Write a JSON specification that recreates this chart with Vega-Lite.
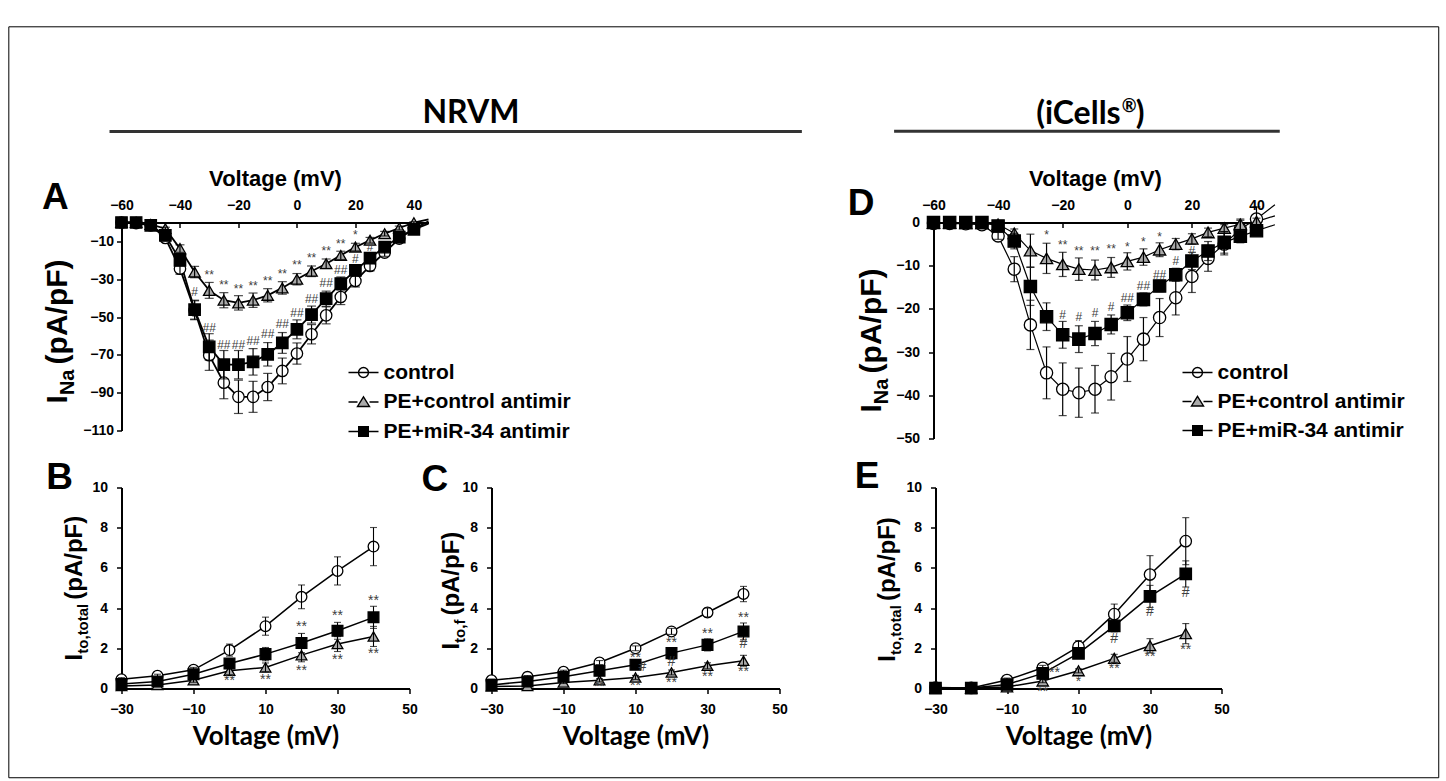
{
  "$schema": "https://vega.github.io/schema/vega-lite/v6.json",
  "padding": {"left": 7.5, "top": 25.5, "right": 4, "bottom": 0},
  "background": "white",
  "config": {
    "font": "Liberation Sans",
    "view": {"stroke": null},
    "axis": {"labelFont": "Liberation Sans", "labelFontWeight": "bold", "labelFontSize": 14, "labelColor": "black", "labelFlush": false, "labelOverlap": false, "domainColor": "black", "domainWidth": 2, "tickColor": "black", "tickWidth": 1.5, "grid": false, "titleFont": "Liberation Sans", "titleFontWeight": "bold", "titleColor": "black"}
  },
  "datasets": {
    "A": [
      {"series":"control","v":-60,"m":0,"lo":0,"hi":0},{"series":"control","v":-55,"m":-0.3,"lo":-0.3,"hi":-0.3},{"series":"control","v":-50,"m":-1.5,"lo":-2,"hi":-1},{"series":"control","v":-45,"m":-8.2,"lo":-9.7,"hi":-6.7},{"series":"control","v":-40,"m":-24.4,"lo":-27.4,"hi":-21.4},{"series":"control","v":-35,"m":-46.4,"lo":-51.4,"hi":-41.4},{"series":"control","v":-30,"m":-70.2,"lo":-78.2,"hi":-62.2},{"series":"control","v":-25,"m":-84.7,"lo":-93.2,"hi":-76.2},{"series":"control","v":-20,"m":-92.2,"lo":-101,"hi":-83.4},{"series":"control","v":-15,"m":-92.2,"lo":-100.4,"hi":-84},{"series":"control","v":-10,"m":-87,"lo":-94.2,"hi":-79.8},{"series":"control","v":-5,"m":-78.5,"lo":-85.3,"hi":-71.7},{"series":"control","v":0,"m":-69.3,"lo":-74.9,"hi":-63.7},{"series":"control","v":5,"m":-59.1,"lo":-64.2,"hi":-54},{"series":"control","v":10,"m":-49.1,"lo":-53.6,"hi":-44.6},{"series":"control","v":15,"m":-39.4,"lo":-43.4,"hi":-35.4},{"series":"control","v":20,"m":-30.9,"lo":-34.1,"hi":-27.7},{"series":"control","v":25,"m":-23,"lo":-25.6,"hi":-20.4},{"series":"control","v":30,"m":-15.9,"lo":-17.9,"hi":-13.9},{"series":"control","v":35,"m":-8.5,"lo":-10,"hi":-7},{"series":"control","v":40,"m":-3.3,"lo":-4.3,"hi":-2.3},{"series":"control","v":45,"m":0.6},
      {"series":"PE+control antimir","v":-60,"m":0,"lo":0,"hi":0},{"series":"PE+control antimir","v":-55,"m":0,"lo":0,"hi":0},{"series":"PE+control antimir","v":-50,"m":-1,"lo":-1.3,"hi":-0.7},{"series":"PE+control antimir","v":-45,"m":-3.3,"lo":-4.1,"hi":-2.5},{"series":"PE+control antimir","v":-40,"m":-13.8,"lo":-15.8,"hi":-11.8},{"series":"PE+control antimir","v":-35,"m":-26.2,"lo":-29.2,"hi":-23.2},{"series":"PE+control antimir","v":-30,"m":-35.9,"lo":-40.1,"hi":-31.7},{"series":"PE+control antimir","v":-25,"m":-41.1,"lo":-45.1,"hi":-37.1},{"series":"PE+control antimir","v":-20,"m":-42.5,"lo":-46.3,"hi":-38.7},{"series":"PE+control antimir","v":-15,"m":-41.1,"lo":-44.9,"hi":-37.3},{"series":"PE+control antimir","v":-10,"m":-38.5,"lo":-42,"hi":-35},{"series":"PE+control antimir","v":-5,"m":-34.6,"lo":-37.9,"hi":-31.3},{"series":"PE+control antimir","v":0,"m":-30,"lo":-33,"hi":-27},{"series":"PE+control antimir","v":5,"m":-25.8,"lo":-28.6,"hi":-23},{"series":"PE+control antimir","v":10,"m":-21.8,"lo":-24.3,"hi":-19.3},{"series":"PE+control antimir","v":15,"m":-17.4,"lo":-19.6,"hi":-15.2},{"series":"PE+control antimir","v":20,"m":-13,"lo":-15,"hi":-11},{"series":"PE+control antimir","v":25,"m":-9.4,"lo":-10.9,"hi":-7.9},{"series":"PE+control antimir","v":30,"m":-5.9,"lo":-7.1,"hi":-4.7},{"series":"PE+control antimir","v":35,"m":-2.9,"lo":-3.9,"hi":-1.9},{"series":"PE+control antimir","v":40,"m":-0.1,"lo":-0.6,"hi":0.4},{"series":"PE+control antimir","v":45,"m":1.7},
      {"series":"PE+miR-34 antimir","v":-60,"m":0,"lo":0,"hi":0},{"series":"PE+miR-34 antimir","v":-55,"m":0,"lo":0,"hi":0},{"series":"PE+miR-34 antimir","v":-50,"m":-1.5,"lo":-2,"hi":-1},{"series":"PE+miR-34 antimir","v":-45,"m":-6.8,"lo":-8,"hi":-5.6},{"series":"PE+miR-34 antimir","v":-40,"m":-20,"lo":-23,"hi":-17},{"series":"PE+miR-34 antimir","v":-35,"m":-46.1,"lo":-51.1,"hi":-41.1},{"series":"PE+miR-34 antimir","v":-30,"m":-65.8,"lo":-72.8,"hi":-58.8},{"series":"PE+miR-34 antimir","v":-25,"m":-75.2,"lo":-82.7,"hi":-67.7},{"series":"PE+miR-34 antimir","v":-20,"m":-75.2,"lo":-82.7,"hi":-67.7},{"series":"PE+miR-34 antimir","v":-15,"m":-73.7,"lo":-80.7,"hi":-66.7},{"series":"PE+miR-34 antimir","v":-10,"m":-69.7,"lo":-75.9,"hi":-63.5},{"series":"PE+miR-34 antimir","v":-5,"m":-63.7,"lo":-69.2,"hi":-58.2},{"series":"PE+miR-34 antimir","v":0,"m":-56.5,"lo":-61.5,"hi":-51.5},{"series":"PE+miR-34 antimir","v":5,"m":-48.7,"lo":-53.2,"hi":-44.2},{"series":"PE+miR-34 antimir","v":10,"m":-40.3,"lo":-44.3,"hi":-36.3},{"series":"PE+miR-34 antimir","v":15,"m":-32.3,"lo":-35.8,"hi":-28.8},{"series":"PE+miR-34 antimir","v":20,"m":-25.3,"lo":-28.3,"hi":-22.3},{"series":"PE+miR-34 antimir","v":25,"m":-18.8,"lo":-21.3,"hi":-16.3},{"series":"PE+miR-34 antimir","v":30,"m":-13,"lo":-15,"hi":-11},{"series":"PE+miR-34 antimir","v":35,"m":-7.7,"lo":-9.2,"hi":-6.2},{"series":"PE+miR-34 antimir","v":40,"m":-3.6,"lo":-4.6,"hi":-2.6},{"series":"PE+miR-34 antimir","v":45,"m":-0.6}
    ],
    "D": [
      {"series":"control","v":-60,"m":-0.2,"lo":-0.4,"hi":0},{"series":"control","v":-55,"m":-0.2,"lo":-0.4,"hi":0},{"series":"control","v":-50,"m":-0.3,"lo":-0.6,"hi":0},{"series":"control","v":-45,"m":-0.5,"lo":-0.9,"hi":-0.1},{"series":"control","v":-40,"m":-3.1,"lo":-3.9,"hi":-2.3},{"series":"control","v":-35,"m":-10.8,"lo":-13.7,"hi":-7.9},{"series":"control","v":-30,"m":-23.7,"lo":-29.4,"hi":-18},{"series":"control","v":-25,"m":-34.8,"lo":-40.8,"hi":-28.8},{"series":"control","v":-20,"m":-38.6,"lo":-44.7,"hi":-32.5},{"series":"control","v":-15,"m":-39.4,"lo":-45.1,"hi":-33.7},{"series":"control","v":-10,"m":-38.6,"lo":-44.1,"hi":-33.1},{"series":"control","v":-5,"m":-35.7,"lo":-41.1,"hi":-30.3},{"series":"control","v":0,"m":-31.6,"lo":-36.8,"hi":-26.4},{"series":"control","v":5,"m":-27,"lo":-32,"hi":-22},{"series":"control","v":10,"m":-22,"lo":-26.4,"hi":-17.6},{"series":"control","v":15,"m":-17.4,"lo":-21.4,"hi":-13.4},{"series":"control","v":20,"m":-12.5,"lo":-16.2,"hi":-8.8},{"series":"control","v":25,"m":-8.3,"lo":-11.3,"hi":-5.3},{"series":"control","v":30,"m":-5,"lo":-7.5,"hi":-2.5},{"series":"control","v":35,"m":-1.5,"lo":-3.5,"hi":0.5},{"series":"control","v":40,"m":0.8,"lo":-2,"hi":3.6},{"series":"control","v":45.7,"m":4.1},
      {"series":"PE+control antimir","v":-60,"m":-0.1,"lo":-0.2,"hi":0},{"series":"PE+control antimir","v":-55,"m":-0.1,"lo":-0.2,"hi":0},{"series":"PE+control antimir","v":-50,"m":-0.2,"lo":-0.3,"hi":-0.1},{"series":"PE+control antimir","v":-45,"m":-0.2,"lo":-0.3,"hi":-0.1},{"series":"PE+control antimir","v":-40,"m":-0.4,"lo":-0.7,"hi":-0.1},{"series":"PE+control antimir","v":-35,"m":-2.5,"lo":-3.5,"hi":-1.5},{"series":"PE+control antimir","v":-30,"m":-6.5,"lo":-10.3,"hi":-2.7},{"series":"PE+control antimir","v":-25,"m":-8.3,"lo":-11.8,"hi":-4.8},{"series":"PE+control antimir","v":-20,"m":-9.7,"lo":-12.5,"hi":-6.9},{"series":"PE+control antimir","v":-15,"m":-10.8,"lo":-13.4,"hi":-8.2},{"series":"PE+control antimir","v":-10,"m":-11,"lo":-13.3,"hi":-8.7},{"series":"PE+control antimir","v":-5,"m":-10.4,"lo":-12.7,"hi":-8.1},{"series":"PE+control antimir","v":0,"m":-9,"lo":-11,"hi":-7},{"series":"PE+control antimir","v":5,"m":-8,"lo":-9.9,"hi":-6.1},{"series":"PE+control antimir","v":10,"m":-6.3,"lo":-7.9,"hi":-4.7},{"series":"PE+control antimir","v":15,"m":-5,"lo":-6.3,"hi":-3.7},{"series":"PE+control antimir","v":20,"m":-3.8,"lo":-5,"hi":-2.6},{"series":"PE+control antimir","v":25,"m":-2.3,"lo":-3.3,"hi":-1.3},{"series":"PE+control antimir","v":30,"m":-1.3,"lo":-2.1,"hi":-0.5},{"series":"PE+control antimir","v":35,"m":-0.4,"lo":-1.6,"hi":0.8},{"series":"PE+control antimir","v":40,"m":0.2,"lo":-0.6,"hi":1},{"series":"PE+control antimir","v":45.7,"m":1.55},
      {"series":"PE+miR-34 antimir","v":-60,"m":0,"lo":0,"hi":0},{"series":"PE+miR-34 antimir","v":-55,"m":0,"lo":0,"hi":0},{"series":"PE+miR-34 antimir","v":-50,"m":0,"lo":0,"hi":0},{"series":"PE+miR-34 antimir","v":-45,"m":0,"lo":0,"hi":0},{"series":"PE+miR-34 antimir","v":-40,"m":-0.8,"lo":-1.2,"hi":-0.4},{"series":"PE+miR-34 antimir","v":-35,"m":-4.3,"lo":-6.1,"hi":-2.5},{"series":"PE+miR-34 antimir","v":-30,"m":-14.8,"lo":-19.2,"hi":-10.4},{"series":"PE+miR-34 antimir","v":-25,"m":-21.8,"lo":-25,"hi":-18.6},{"series":"PE+miR-34 antimir","v":-20,"m":-26,"lo":-29.1,"hi":-22.9},{"series":"PE+miR-34 antimir","v":-15,"m":-27,"lo":-30.1,"hi":-23.9},{"series":"PE+miR-34 antimir","v":-10,"m":-25.7,"lo":-28.5,"hi":-22.9},{"series":"PE+miR-34 antimir","v":-5,"m":-23.6,"lo":-25.8,"hi":-21.4},{"series":"PE+miR-34 antimir","v":0,"m":-20.9,"lo":-22.7,"hi":-19.1},{"series":"PE+miR-34 antimir","v":5,"m":-17.8,"lo":-19.3,"hi":-16.3},{"series":"PE+miR-34 antimir","v":10,"m":-14.7,"lo":-16,"hi":-13.4},{"series":"PE+miR-34 antimir","v":15,"m":-12.1,"lo":-13.6,"hi":-10.6},{"series":"PE+miR-34 antimir","v":20,"m":-8.9,"lo":-10.9,"hi":-6.9},{"series":"PE+miR-34 antimir","v":25,"m":-6.6,"lo":-8.8,"hi":-4.4},{"series":"PE+miR-34 antimir","v":30,"m":-4.6,"lo":-7.1,"hi":-2.1},{"series":"PE+miR-34 antimir","v":35,"m":-3.2,"lo":-4.7,"hi":-1.7},{"series":"PE+miR-34 antimir","v":40,"m":-1.9,"lo":-2.9,"hi":-0.9},{"series":"PE+miR-34 antimir","v":45.7,"m":-0.53}
    ],
    "B": [
      {"series":"control","v":-30,"m":0.46,"lo":0.38,"hi":0.54},{"series":"control","v":-20,"m":0.63,"lo":0.55,"hi":0.71},{"series":"control","v":-10,"m":0.93,"lo":0.81,"hi":1.05},{"series":"control","v":0,"m":1.91,"lo":1.61,"hi":2.21},{"series":"control","v":10,"m":3.1,"lo":2.65,"hi":3.55},{"series":"control","v":20,"m":4.56,"lo":3.97,"hi":5.15},{"series":"control","v":30,"m":5.85,"lo":5.15,"hi":6.55},{"series":"control","v":40,"m":7.06,"lo":6.11,"hi":8.01},
      {"series":"PE+control antimir","v":-30,"m":0.13,"lo":0.08,"hi":0.18},{"series":"PE+control antimir","v":-20,"m":0.18,"lo":0.13,"hi":0.23},{"series":"PE+control antimir","v":-10,"m":0.41,"lo":0.31,"hi":0.51},{"series":"PE+control antimir","v":0,"m":0.88,"lo":0.68,"hi":1.08},{"series":"PE+control antimir","v":10,"m":1.05,"lo":0.83,"hi":1.27},{"series":"PE+control antimir","v":20,"m":1.66,"lo":1.33,"hi":1.99},{"series":"PE+control antimir","v":30,"m":2.21,"lo":1.84,"hi":2.58},{"series":"PE+control antimir","v":40,"m":2.59,"lo":2.09,"hi":3.09},
      {"series":"PE+miR-34 antimir","v":-30,"m":0.22,"lo":0.17,"hi":0.27},{"series":"PE+miR-34 antimir","v":-20,"m":0.35,"lo":0.29,"hi":0.41},{"series":"PE+miR-34 antimir","v":-10,"m":0.71,"lo":0.61,"hi":0.81},{"series":"PE+miR-34 antimir","v":0,"m":1.24,"lo":0.99,"hi":1.49},{"series":"PE+miR-34 antimir","v":10,"m":1.71,"lo":1.38,"hi":2.04},{"series":"PE+miR-34 antimir","v":20,"m":2.26,"lo":1.78,"hi":2.74},{"series":"PE+miR-34 antimir","v":30,"m":2.87,"lo":2.45,"hi":3.29},{"series":"PE+miR-34 antimir","v":40,"m":3.54,"lo":2.99,"hi":4.09}
    ],
    "C": [
      {"series":"control","v":-30,"m":0.41,"lo":0.36,"hi":0.46},{"series":"control","v":-20,"m":0.58,"lo":0.52,"hi":0.64},{"series":"control","v":-10,"m":0.83,"lo":0.75,"hi":0.91},{"series":"control","v":0,"m":1.29,"lo":1.19,"hi":1.39},{"series":"control","v":10,"m":2.0,"lo":1.88,"hi":2.12},{"series":"control","v":20,"m":2.84,"lo":2.69,"hi":2.99},{"series":"control","v":30,"m":3.78,"lo":3.56,"hi":4.0},{"series":"control","v":40,"m":4.7,"lo":4.32,"hi":5.08},
      {"series":"PE+control antimir","v":-30,"m":0.1,"lo":0.07,"hi":0.13},{"series":"PE+control antimir","v":-20,"m":0.13,"lo":0.1,"hi":0.16},{"series":"PE+control antimir","v":-10,"m":0.3,"lo":0.25,"hi":0.35},{"series":"PE+control antimir","v":0,"m":0.41,"lo":0.33,"hi":0.49},{"series":"PE+control antimir","v":10,"m":0.55,"lo":0.45,"hi":0.65},{"series":"PE+control antimir","v":20,"m":0.8,"lo":0.68,"hi":0.92},{"series":"PE+control antimir","v":30,"m":1.13,"lo":0.98,"hi":1.28},{"series":"PE+control antimir","v":40,"m":1.38,"lo":1.11,"hi":1.65},
      {"series":"PE+miR-34 antimir","v":-30,"m":0.18,"lo":0.14,"hi":0.22},{"series":"PE+miR-34 antimir","v":-20,"m":0.35,"lo":0.3,"hi":0.4},{"series":"PE+miR-34 antimir","v":-10,"m":0.58,"lo":0.5,"hi":0.66},{"series":"PE+miR-34 antimir","v":0,"m":0.88,"lo":0.78,"hi":0.98},{"series":"PE+miR-34 antimir","v":10,"m":1.18,"lo":1.03,"hi":1.33},{"series":"PE+miR-34 antimir","v":20,"m":1.76,"lo":1.56,"hi":1.96},{"series":"PE+miR-34 antimir","v":30,"m":2.17,"lo":1.87,"hi":2.47},{"series":"PE+miR-34 antimir","v":40,"m":2.84,"lo":2.42,"hi":3.26}
    ],
    "E": [
      {"series":"control","v":-30,"m":0.05,"lo":0.03,"hi":0.07},{"series":"control","v":-20,"m":0.03,"lo":0.01,"hi":0.05},{"series":"control","v":-10,"m":0.42,"lo":0.32,"hi":0.52},{"series":"control","v":0,"m":1.03,"lo":0.91,"hi":1.15},{"series":"control","v":10,"m":2.08,"lo":1.78,"hi":2.38},{"series":"control","v":20,"m":3.7,"lo":3.2,"hi":4.2},{"series":"control","v":30,"m":5.67,"lo":4.73,"hi":6.61},{"series":"control","v":40,"m":7.33,"lo":6.16,"hi":8.5},
      {"series":"PE+control antimir","v":-30,"m":0.02,"lo":0,"hi":0.04},{"series":"PE+control antimir","v":-20,"m":0.02,"lo":0,"hi":0.04},{"series":"PE+control antimir","v":-10,"m":0.08,"lo":0.05,"hi":0.11},{"series":"PE+control antimir","v":0,"m":0.37,"lo":0.29,"hi":0.45},{"series":"PE+control antimir","v":10,"m":0.88,"lo":0.78,"hi":0.98},{"series":"PE+control antimir","v":20,"m":1.5,"lo":1.3,"hi":1.7},{"series":"PE+control antimir","v":30,"m":2.13,"lo":1.78,"hi":2.48},{"series":"PE+control antimir","v":40,"m":2.73,"lo":2.23,"hi":3.23},
      {"series":"PE+miR-34 antimir","v":-30,"m":0.02,"lo":0,"hi":0.04},{"series":"PE+miR-34 antimir","v":-20,"m":0.02,"lo":0,"hi":0.04},{"series":"PE+miR-34 antimir","v":-10,"m":0.2,"lo":0.15,"hi":0.25},{"series":"PE+miR-34 antimir","v":0,"m":0.75,"lo":0.65,"hi":0.85},{"series":"PE+miR-34 antimir","v":10,"m":1.75,"lo":1.55,"hi":1.95},{"series":"PE+miR-34 antimir","v":20,"m":3.12,"lo":2.82,"hi":3.42},{"series":"PE+miR-34 antimir","v":30,"m":4.58,"lo":4.03,"hi":5.13},{"series":"PE+miR-34 antimir","v":40,"m":5.7,"lo":5.05,"hi":6.35}
    ],
    "annA": [{"v":-30,"y":-27.9,"t":"**"},{"v":-25,"y":-33.2,"t":"**"},{"v":-20,"y":-35.3,"t":"**"},{"v":-15,"y":-33.6,"t":"**"},{"v":-10,"y":-31.1,"t":"**"},{"v":-5,"y":-27,"t":"**"},{"v":0,"y":-22.6,"t":"**"},{"v":5,"y":-18.8,"t":"**"},{"v":10,"y":-15.1,"t":"**"},{"v":15,"y":-11.4,"t":"**"},{"v":20,"y":-6.8,"t":"*"},{"v":-35,"y":-36.7,"t":"#"},{"v":-30,"y":-55.8,"t":"##"},{"v":-25,"y":-64.6,"t":"##"},{"v":-20,"y":-64.6,"t":"##"},{"v":-15,"y":-62.8,"t":"##"},{"v":-10,"y":-58.9,"t":"##"},{"v":-5,"y":-53.5,"t":"##"},{"v":0,"y":-47.7,"t":"##"},{"v":5,"y":-40.3,"t":"##"},{"v":10,"y":-32,"t":"##"},{"v":15,"y":-25.3,"t":"##"},{"v":20,"y":-19.5,"t":"#"},{"v":25,"y":-12.9,"t":"#"}],
    "annD": [{"v":-25,"y":-2.9,"t":"*"},{"v":-20,"y":-5.2,"t":"**"},{"v":-15,"y":-6.5,"t":"**"},{"v":-10,"y":-6.7,"t":"**"},{"v":-5,"y":-6.2,"t":"**"},{"v":0,"y":-5.6,"t":"*"},{"v":5,"y":-4.4,"t":"*"},{"v":10,"y":-3.4,"t":"*"},{"v":-20,"y":-21.3,"t":"#"},{"v":-15,"y":-21.8,"t":"#"},{"v":-10,"y":-20.9,"t":"#"},{"v":-5,"y":-19.5,"t":"#"},{"v":0,"y":-17.4,"t":"##"},{"v":5,"y":-14.8,"t":"##"},{"v":10,"y":-12.1,"t":"##"},{"v":15,"y":-8.9,"t":"#"},{"v":20,"y":-6.5,"t":"#"}],
    "annB": [{"v":20,"y":3.04,"t":"**"},{"v":30,"y":3.62,"t":"**"},{"v":40,"y":4.37,"t":"**"},{"v":0,"y":0.35,"t":"**"},{"v":10,"y":0.42,"t":"**"},{"v":20,"y":0.88,"t":"**"},{"v":30,"y":1.43,"t":"**"},{"v":40,"y":1.71,"t":"**"}],
    "annC": [{"v":10,"y":1.54,"t":"**"},{"v":20,"y":2.24,"t":"**"},{"v":30,"y":2.71,"t":"**"},{"v":40,"y":3.5,"t":"**"},{"v":11.9,"y":1.08,"t":"#"},{"v":20,"y":1.33,"t":"#"},{"v":40,"y":2.21,"t":"#"},{"v":0,"y":0.05,"t":"**"},{"v":10,"y":0.13,"t":"**"},{"v":20,"y":0.25,"t":"**"},{"v":30,"y":0.58,"t":"**"},{"v":40,"y":0.8,"t":"**"}],
    "annE": [{"v":3.3,"y":0.75,"t":"**"},{"v":0,"y":-0.17,"t":"**"},{"v":10,"y":0.33,"t":"*"},{"v":20,"y":0.97,"t":"**"},{"v":30,"y":1.58,"t":"**"},{"v":40,"y":1.93,"t":"**"},{"v":20,"y":2.45,"t":"#"},{"v":30,"y":3.83,"t":"#"},{"v":40,"y":4.75,"t":"#"}]
  },
  "resolve": {"scale": {"shape": "independent", "fill": "independent"}, "legend": {"shape": "independent", "fill": "independent"}},
  "spacing": -420,
  "vconcat": [
    {
      "hconcat": [
        {
          "width": 307, "height": 208,
          "layer": [
            {"data": {"name": "A"}, "mark": {"type": "line", "color": "black", "strokeWidth": 1.8, "clip": false},
             "encoding": {
               "x": {"field": "v", "type": "quantitative", "scale": {"domain": [-60, 45], "nice": false, "zero": false}, "axis": {"orient": "top", "values": [-60,-40,-20,0,20,40], "title": "Voltage (mV)", "titleFontSize": 22, "titlePadding": 8, "tickSize": -5, "labelPadding": 15}},
               "y": {"field": "m", "type": "quantitative", "scale": {"domain": [-110, 0], "nice": false, "zero": false}, "axis": {"orient": "left", "values": [-10,-30,-50,-70,-90,-110], "title": null, "tickSize": 5, "labelPadding": 3}},
               "detail": {"field": "series"}}},
            {"data": {"name": "A"}, "transform": [{"filter": "isValid(datum.lo)"}],
             "mark": {"type": "point", "filled": true, "stroke": "black", "strokeWidth": 1.3, "size": 130, "opacity": 1},
             "encoding": {
               "x": {"field": "v", "type": "quantitative"},
               "y": {"field": "m", "type": "quantitative"},
               "shape": {"field": "series", "type": "nominal", "scale": {"domain": ["PE+miR-34 antimir","control","PE+control antimir"], "range": ["square","circle","triangle-up"]}, "legend": null},
               "fill": {"field": "series", "type": "nominal", "scale": {"domain": ["control","PE+control antimir","PE+miR-34 antimir"], "range": ["white","#aaaaaa","black"]},
                 "legend": {"orient": "none", "legendX": 226, "legendY": 134, "title": null, "padding": 0, "symbolSize": 900,
                   "symbolType": {"expr": "datum.value === 'control' ? 'M-1,0H1M0.33,0A0.33,0.33,0,1,1,-0.33,0A0.33,0.33,0,1,1,0.33,0Z' : datum.value === 'PE+control antimir' ? 'M-1,0H-0.4M0.4,0H1M0,-0.34L0.4,0.3L-0.4,0.3Z' : 'M-1,0H-0.32M0.32,0H1M-0.32,-0.32H0.32V0.32H-0.32Z'"},
                   "symbolStrokeColor": "black", "symbolStrokeWidth": 1.4, "symbolOpacity": 1, "labelFont": "Liberation Sans", "labelFontSize": 21, "labelFontWeight": "bold", "labelColor": "black", "labelOffset": 4, "labelLimit": 400, "rowPadding": 3.5}}}},
            {"data": {"name": "A"}, "transform": [{"filter": "isValid(datum.lo)"}],
             "mark": {"type": "errorbar", "ticks": {"size": 9}, "thickness": 1.2, "color": "black"},
             "encoding": {"x": {"field": "v", "type": "quantitative"}, "y": {"field": "lo", "type": "quantitative"}, "y2": {"field": "hi"}}},
            {"data": {"name": "annA"}, "mark": {"type": "text", "fontSize": 12, "color": "#404040", "baseline": "middle", "align": "center", "clip": false},
             "encoding": {"x": {"field": "v", "type": "quantitative"}, "y": {"field": "y", "type": "quantitative"}, "text": {"field": "t"}}},
            {"data": {"values": [{}]}, "mark": {"type": "text", "font": "Lato", "fontWeight": "bold", "fontSize": 32, "align": "center", "baseline": "alphabetic", "color": "black", "clip": false},
             "encoding": {"x": {"datum": 59.5, "type": "quantitative"}, "y": {"datum": 52.4, "type": "quantitative"}, "text": {"value": "NRVM"}}},
            {"data": {"values": [{}]}, "mark": {"type": "rule", "strokeWidth": 3, "color": "#333333", "clip": false},
             "encoding": {"x": {"datum": -64.1, "type": "quantitative"}, "x2": {"datum": 172.7}, "y": {"datum": 48.1, "type": "quantitative"}}},
            {"data": {"values": [{}]}, "mark": {"type": "text", "fontWeight": "bold", "fontSize": 37, "align": "center", "baseline": "alphabetic", "color": "black", "clip": false},
             "encoding": {"x": {"datum": -82.6, "type": "quantitative"}, "y": {"datum": 7.4, "type": "quantitative"}, "text": {"value": "A"}}},
            {"data": {"values": [{}]}, "mark": {"type": "text", "fontWeight": "bold", "fontSize": 30, "angle": 270, "align": "left", "baseline": "alphabetic", "color": "black", "dx": -72, "dy": -55, "clip": false},
             "encoding": {"x": {"datum": -60, "type": "quantitative"}, "y": {"datum": -57.6, "type": "quantitative"}, "text": {"value": "I"}}},
            {"data": {"values": [{}]}, "mark": {"type": "text", "fontWeight": "bold", "fontSize": 20, "angle": 270, "align": "left", "baseline": "alphabetic", "color": "black", "dx": -63.7, "dy": -48, "clip": false},
             "encoding": {"x": {"datum": -60, "type": "quantitative"}, "y": {"datum": -57.6, "type": "quantitative"}, "text": {"value": "Na"}}},
            {"data": {"values": [{}]}, "mark": {"type": "text", "fontWeight": "bold", "fontSize": 30, "angle": 270, "align": "left", "baseline": "alphabetic", "color": "black", "dx": -33, "dy": -55, "clip": false},
             "encoding": {"x": {"datum": -60, "type": "quantitative"}, "y": {"datum": -57.6, "type": "quantitative"}, "text": {"value": "(pA/pF)"}}}
          ]
        },
        {
          "width": 323, "height": 216,
          "layer": [
            {"data": {"name": "D"}, "mark": {"type": "line", "color": "black", "strokeWidth": 1.2, "clip": false},
             "encoding": {
               "x": {"field": "v", "type": "quantitative", "scale": {"domain": [-60, 40], "nice": false, "zero": false}, "axis": {"orient": "top", "values": [-60,-40,-20,0,20,40], "title": "Voltage (mV)", "titleFontSize": 22, "titlePadding": 8, "tickSize": -5, "labelPadding": 15}},
               "y": {"field": "m", "type": "quantitative", "scale": {"domain": [-50, 0], "nice": false, "zero": false}, "axis": {"orient": "left", "values": [0,-10,-20,-30,-40,-50], "title": null, "tickSize": 5, "labelPadding": 9}},
               "detail": {"field": "series"}}},
            {"data": {"name": "D"}, "transform": [{"filter": "isValid(datum.lo)"}],
             "mark": {"type": "point", "filled": true, "stroke": "black", "strokeWidth": 1.3, "size": 150, "opacity": 1},
             "encoding": {
               "x": {"field": "v", "type": "quantitative"},
               "y": {"field": "m", "type": "quantitative"},
               "shape": {"field": "series", "type": "nominal", "scale": {"domain": ["PE+miR-34 antimir","control","PE+control antimir"], "range": ["square","circle","triangle-up"]}, "legend": null},
               "fill": {"field": "series", "type": "nominal", "scale": {"domain": ["control","PE+control antimir","PE+miR-34 antimir"], "range": ["white","#aaaaaa","black"]},
                 "legend": {"orient": "none", "legendX": 248, "legendY": 134, "title": null, "padding": 0, "symbolSize": 900,
                   "symbolType": {"expr": "datum.value === 'control' ? 'M-1,0H1M0.33,0A0.33,0.33,0,1,1,-0.33,0A0.33,0.33,0,1,1,0.33,0Z' : datum.value === 'PE+control antimir' ? 'M-1,0H-0.4M0.4,0H1M0,-0.34L0.4,0.3L-0.4,0.3Z' : 'M-1,0H-0.32M0.32,0H1M-0.32,-0.32H0.32V0.32H-0.32Z'"},
                   "symbolStrokeColor": "black", "symbolStrokeWidth": 1.4, "symbolOpacity": 1, "labelFont": "Liberation Sans", "labelFontSize": 21, "labelFontWeight": "bold", "labelColor": "black", "labelOffset": 4, "labelLimit": 400, "rowPadding": 3}}}},
            {"data": {"name": "D"}, "transform": [{"filter": "isValid(datum.lo)"}],
             "mark": {"type": "errorbar", "ticks": {"size": 8}, "thickness": 1.2, "color": "black"},
             "encoding": {"x": {"field": "v", "type": "quantitative"}, "y": {"field": "lo", "type": "quantitative"}, "y2": {"field": "hi"}}},
            {"data": {"name": "annD"}, "mark": {"type": "text", "fontSize": 12, "color": "#404040", "baseline": "middle", "align": "center", "clip": false},
             "encoding": {"x": {"field": "v", "type": "quantitative"}, "y": {"field": "y", "type": "quantitative"}, "text": {"field": "t"}}},
            {"data": {"values": [{}]}, "mark": {"type": "text", "font": "Lato", "fontWeight": "bold", "fontSize": 32, "align": "right", "baseline": "alphabetic", "color": "black", "clip": false},
             "encoding": {"x": {"datum": -2.05, "type": "quantitative"}, "y": {"datum": 22.9, "type": "quantitative"}, "text": {"value": "(iCells"}}},
            {"data": {"values": [{}]}, "mark": {"type": "text", "font": "Lato", "fontWeight": "bold", "fontSize": 18, "align": "left", "baseline": "alphabetic", "color": "black", "dx": 1, "dy": -12, "clip": false},
             "encoding": {"x": {"datum": -2.05, "type": "quantitative"}, "y": {"datum": 22.9, "type": "quantitative"}, "text": {"value": "®"}}},
            {"data": {"values": [{}]}, "mark": {"type": "text", "font": "Lato", "fontWeight": "bold", "fontSize": 32, "align": "left", "baseline": "alphabetic", "color": "black", "dx": 15, "clip": false},
             "encoding": {"x": {"datum": -2.05, "type": "quantitative"}, "y": {"datum": 22.9, "type": "quantitative"}, "text": {"value": ")"}}},
            {"data": {"values": [{}]}, "mark": {"type": "rule", "strokeWidth": 3, "color": "#333333", "clip": false},
             "encoding": {"x": {"datum": -72.2, "type": "quantitative"}, "x2": {"datum": 47.2}, "y": {"datum": 21.1, "type": "quantitative"}}},
            {"data": {"values": [{}]}, "mark": {"type": "text", "fontWeight": "bold", "fontSize": 37, "align": "center", "baseline": "alphabetic", "color": "black", "clip": false},
             "encoding": {"x": {"datum": -82.4, "type": "quantitative"}, "y": {"datum": 1.85, "type": "quantitative"}, "text": {"value": "D"}}},
            {"data": {"values": [{}]}, "mark": {"type": "text", "fontWeight": "bold", "fontSize": 30, "angle": 270, "align": "left", "baseline": "alphabetic", "color": "black", "dx": -72, "dy": -53, "clip": false},
             "encoding": {"x": {"datum": -60, "type": "quantitative"}, "y": {"datum": -27.3, "type": "quantitative"}, "text": {"value": "I"}}},
            {"data": {"values": [{}]}, "mark": {"type": "text", "fontWeight": "bold", "fontSize": 20, "angle": 270, "align": "left", "baseline": "alphabetic", "color": "black", "dx": -63.7, "dy": -46, "clip": false},
             "encoding": {"x": {"datum": -60, "type": "quantitative"}, "y": {"datum": -27.3, "type": "quantitative"}, "text": {"value": "Na"}}},
            {"data": {"values": [{}]}, "mark": {"type": "text", "fontWeight": "bold", "fontSize": 30, "angle": 270, "align": "left", "baseline": "alphabetic", "color": "black", "dx": -33, "dy": -53, "clip": false},
             "encoding": {"x": {"datum": -60, "type": "quantitative"}, "y": {"datum": -27.3, "type": "quantitative"}, "text": {"value": "(pA/pF)"}}}
          ]
        }
      ],
      "spacing": 505,
      "bounds": "flush",
      "resolve": {"scale": {"shape": "independent", "fill": "independent"}, "legend": {"shape": "independent", "fill": "independent"}}
    },
    {
      "hconcat": [
        {
          "width": 288, "height": 201,
          "layer": [
            {"data": {"name": "B"}, "mark": {"type": "line", "color": "black", "strokeWidth": 1.5},
             "encoding": {
               "x": {"field": "v", "type": "quantitative", "scale": {"domain": [-30, 50], "nice": false, "zero": false}, "axis": {"orient": "bottom", "values": [-30,-10,10,30,50], "title": "Voltage (mV)", "titleFont": "Lato", "titleFontSize": 26, "titlePadding": 7, "tickSize": 5, "labelPadding": 9}},
               "y": {"field": "m", "type": "quantitative", "scale": {"domain": [0, 10], "nice": false}, "axis": {"orient": "left", "values": [0,2,4,6,8,10], "title": null, "tickSize": 5, "labelPadding": 9}},
               "detail": {"field": "series"}}},
            {"data": {"name": "B"},
             "mark": {"type": "point", "filled": true, "stroke": "black", "strokeWidth": 1.3, "size": 115, "opacity": 1},
             "encoding": {
               "x": {"field": "v", "type": "quantitative"},
               "y": {"field": "m", "type": "quantitative"},
               "shape": {"field": "series", "type": "nominal", "scale": {"domain": ["control","PE+control antimir","PE+miR-34 antimir"], "range": ["circle","triangle-up","square"]}, "legend": null},
               "fill": {"field": "series", "type": "nominal", "scale": {"domain": ["control","PE+control antimir","PE+miR-34 antimir"], "range": ["white","#aaaaaa","black"]}, "legend": null}}},
            {"data": {"name": "B"},
             "mark": {"type": "errorbar", "ticks": {"size": 7}, "thickness": 1.1, "color": "black"},
             "encoding": {"x": {"field": "v", "type": "quantitative"}, "y": {"field": "lo", "type": "quantitative"}, "y2": {"field": "hi"}}},
            {"data": {"name": "annB"}, "mark": {"type": "text", "fontSize": 14, "color": "#404040", "baseline": "middle", "align": "center", "clip": false},
             "encoding": {"x": {"field": "v", "type": "quantitative"}, "y": {"field": "y", "type": "quantitative"}, "text": {"field": "t"}}},
            {"data": {"values": [{}]}, "mark": {"type": "rect", "fill": "transparent", "stroke": "black", "strokeWidth": 1, "clip": false},
             "encoding": {"x": {"datum": -61.3, "type": "quantitative"}, "x2": {"datum": 335.9}, "y": {"datum": 32.92, "type": "quantitative"}, "y2": {"datum": -4.44}}},
            {"data": {"values": [{}]}, "mark": {"type": "text", "fontWeight": "bold", "fontSize": 37, "align": "center", "baseline": "alphabetic", "color": "black", "clip": false},
             "encoding": {"x": {"datum": -47.2, "type": "quantitative"}, "y": {"datum": 9.95, "type": "quantitative"}, "text": {"value": "B"}}},
            {"data": {"values": [{}]}, "mark": {"type": "text", "fontWeight": "bold", "fontSize": 24, "angle": 270, "align": "left", "baseline": "alphabetic", "color": "black", "dx": -72.4, "dy": -40, "clip": false},
             "encoding": {"x": {"datum": -30, "type": "quantitative"}, "y": {"datum": 5, "type": "quantitative"}, "text": {"value": "I"}}},
            {"data": {"values": [{}]}, "mark": {"type": "text", "fontWeight": "bold", "fontSize": 15, "angle": 270, "align": "left", "baseline": "alphabetic", "color": "black", "dx": -65.7, "dy": -34, "clip": false},
             "encoding": {"x": {"datum": -30, "type": "quantitative"}, "y": {"datum": 5, "type": "quantitative"}, "text": {"value": "to,total"}}},
            {"data": {"values": [{}]}, "mark": {"type": "text", "fontWeight": "bold", "fontSize": 24, "angle": 270, "align": "left", "baseline": "alphabetic", "color": "black", "dx": -11.7, "dy": -40, "clip": false},
             "encoding": {"x": {"datum": -30, "type": "quantitative"}, "y": {"datum": 5, "type": "quantitative"}, "text": {"value": "(pA/pF)"}}}
          ]
        },
        {"width": 82, "height": 201, "data": {"values": [{}]}, "mark": {"type": "point", "opacity": 0}, "encoding": {}},
        {
          "width": 288, "height": 201,
          "layer": [
            {"data": {"name": "C"}, "mark": {"type": "line", "color": "black", "strokeWidth": 1.5},
             "encoding": {
               "x": {"field": "v", "type": "quantitative", "scale": {"domain": [-30, 50], "nice": false, "zero": false}, "axis": {"orient": "bottom", "values": [-30,-10,10,30,50], "title": "Voltage (mV)", "titleFont": "Lato", "titleFontSize": 26, "titlePadding": 7, "tickSize": 5, "labelPadding": 9}},
               "y": {"field": "m", "type": "quantitative", "scale": {"domain": [0, 10], "nice": false}, "axis": {"orient": "left", "values": [0,2,4,6,8,10], "title": null, "tickSize": 5, "labelPadding": 9}},
               "detail": {"field": "series"}}},
            {"data": {"name": "C"},
             "mark": {"type": "point", "filled": true, "stroke": "black", "strokeWidth": 1.3, "size": 115, "opacity": 1},
             "encoding": {
               "x": {"field": "v", "type": "quantitative"},
               "y": {"field": "m", "type": "quantitative"},
               "shape": {"field": "series", "type": "nominal", "scale": {"domain": ["control","PE+control antimir","PE+miR-34 antimir"], "range": ["circle","triangle-up","square"]}, "legend": null},
               "fill": {"field": "series", "type": "nominal", "scale": {"domain": ["control","PE+control antimir","PE+miR-34 antimir"], "range": ["white","#aaaaaa","black"]}, "legend": null}}},
            {"data": {"name": "C"},
             "mark": {"type": "errorbar", "ticks": {"size": 7}, "thickness": 1.1, "color": "black"},
             "encoding": {"x": {"field": "v", "type": "quantitative"}, "y": {"field": "lo", "type": "quantitative"}, "y2": {"field": "hi"}}},
            {"data": {"name": "annC"}, "mark": {"type": "text", "fontSize": 14, "color": "#404040", "baseline": "middle", "align": "center", "clip": false},
             "encoding": {"x": {"field": "v", "type": "quantitative"}, "y": {"field": "y", "type": "quantitative"}, "text": {"field": "t"}}},
            {"data": {"values": [{}]}, "mark": {"type": "text", "fontWeight": "bold", "fontSize": 37, "align": "center", "baseline": "alphabetic", "color": "black", "clip": false},
             "encoding": {"x": {"datum": -45.75, "type": "quantitative"}, "y": {"datum": 9.84, "type": "quantitative"}, "text": {"value": "C"}}},
            {"data": {"values": [{}]}, "mark": {"type": "text", "fontWeight": "bold", "fontSize": 24, "angle": 270, "align": "left", "baseline": "alphabetic", "color": "black", "dx": -59, "dy": -33, "clip": false},
             "encoding": {"x": {"datum": -30, "type": "quantitative"}, "y": {"datum": 4.87, "type": "quantitative"}, "text": {"value": "I"}}},
            {"data": {"values": [{}]}, "mark": {"type": "text", "fontWeight": "bold", "fontSize": 15, "angle": 270, "align": "left", "baseline": "alphabetic", "color": "black", "dx": -52.3, "dy": -27, "clip": false},
             "encoding": {"x": {"datum": -30, "type": "quantitative"}, "y": {"datum": 4.87, "type": "quantitative"}, "text": {"value": "to,f"}}},
            {"data": {"values": [{}]}, "mark": {"type": "text", "fontWeight": "bold", "fontSize": 24, "angle": 270, "align": "left", "baseline": "alphabetic", "color": "black", "dx": -25, "dy": -33, "clip": false},
             "encoding": {"x": {"datum": -30, "type": "quantitative"}, "y": {"datum": 4.87, "type": "quantitative"}, "text": {"value": "(pA/pF)"}}}
          ]
        },
        {"width": 156, "height": 201, "data": {"values": [{}]}, "mark": {"type": "point", "opacity": 0}, "encoding": {}},
        {
          "width": 286, "height": 201,
          "layer": [
            {"data": {"name": "E"}, "mark": {"type": "line", "color": "black", "strokeWidth": 1.5},
             "encoding": {
               "x": {"field": "v", "type": "quantitative", "scale": {"domain": [-30, 50], "nice": false, "zero": false}, "axis": {"orient": "bottom", "values": [-30,-10,10,30,50], "title": "Voltage (mV)", "titleFont": "Lato", "titleFontSize": 26, "titlePadding": 7, "tickSize": 5, "labelPadding": 9}},
               "y": {"field": "m", "type": "quantitative", "scale": {"domain": [0, 10], "nice": false}, "axis": {"orient": "left", "values": [0,2,4,6,8,10], "title": null, "tickSize": 5, "labelPadding": 9}},
               "detail": {"field": "series"}}},
            {"data": {"name": "E"},
             "mark": {"type": "point", "filled": true, "stroke": "black", "strokeWidth": 1.3, "size": 130, "opacity": 1},
             "encoding": {
               "x": {"field": "v", "type": "quantitative"},
               "y": {"field": "m", "type": "quantitative"},
               "shape": {"field": "series", "type": "nominal", "scale": {"domain": ["control","PE+control antimir","PE+miR-34 antimir"], "range": ["circle","triangle-up","square"]}, "legend": null},
               "fill": {"field": "series", "type": "nominal", "scale": {"domain": ["control","PE+control antimir","PE+miR-34 antimir"], "range": ["white","#aaaaaa","black"]}, "legend": null}}},
            {"data": {"name": "E"},
             "mark": {"type": "errorbar", "ticks": {"size": 7}, "thickness": 1.1, "color": "black"},
             "encoding": {"x": {"field": "v", "type": "quantitative"}, "y": {"field": "lo", "type": "quantitative"}, "y2": {"field": "hi"}}},
            {"data": {"name": "annE"}, "mark": {"type": "text", "fontSize": 14, "color": "#404040", "baseline": "middle", "align": "center", "clip": false},
             "encoding": {"x": {"field": "v", "type": "quantitative"}, "y": {"field": "y", "type": "quantitative"}, "text": {"field": "t"}}},
            {"data": {"values": [{}]}, "mark": {"type": "text", "fontWeight": "bold", "fontSize": 37, "align": "center", "baseline": "alphabetic", "color": "black", "clip": false},
             "encoding": {"x": {"datum": -49.1, "type": "quantitative"}, "y": {"datum": 9.98, "type": "quantitative"}, "text": {"value": "E"}}},
            {"data": {"values": [{}]}, "mark": {"type": "text", "fontWeight": "bold", "fontSize": 24, "angle": 270, "align": "left", "baseline": "alphabetic", "color": "black", "dx": -72.4, "dy": -41, "clip": false},
             "encoding": {"x": {"datum": -30, "type": "quantitative"}, "y": {"datum": 4.93, "type": "quantitative"}, "text": {"value": "I"}}},
            {"data": {"values": [{}]}, "mark": {"type": "text", "fontWeight": "bold", "fontSize": 15, "angle": 270, "align": "left", "baseline": "alphabetic", "color": "black", "dx": -65.7, "dy": -35, "clip": false},
             "encoding": {"x": {"datum": -30, "type": "quantitative"}, "y": {"datum": 4.93, "type": "quantitative"}, "text": {"value": "to,total"}}},
            {"data": {"values": [{}]}, "mark": {"type": "text", "fontWeight": "bold", "fontSize": 24, "angle": 270, "align": "left", "baseline": "alphabetic", "color": "black", "dx": -11.7, "dy": -41, "clip": false},
             "encoding": {"x": {"datum": -30, "type": "quantitative"}, "y": {"datum": 4.93, "type": "quantitative"}, "text": {"value": "(pA/pF)"}}}
          ]
        }
      ],
      "spacing": 0,
      "bounds": "flush",
      "resolve": {"scale": {"shape": "independent", "fill": "independent"}, "legend": {"shape": "independent", "fill": "independent"}}
    }
  ]
}
